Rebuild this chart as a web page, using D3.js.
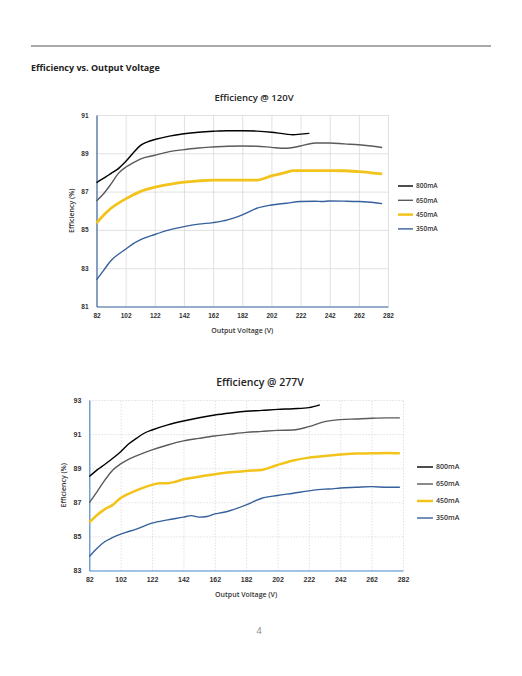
<!DOCTYPE html>
<html>
<head>
<meta charset="utf-8">
<script src="https://cdn.jsdelivr.net/npm/d3@7"></script>
<style>
  body { margin: 0; background: #fff; }
  svg { display: block; font-family: "Open Sans", sans-serif; }
</style>
</head>
<body>
<svg width="522" height="676"></svg>
<script>
// series labels and colours
var seriesNames = ["800mA", "650mA", "450mA", "350mA"];
var xTicks = [82, 102, 122, 142, 162, 182, 202, 222, 242, 262, 282];

// Efficiency @ 120V  (volts, %)
var v120_800 = [[82,87.47],[87,87.7],[92,87.95],[97,88.2],[102,88.57],[107,89.0],[112,89.4],[117,89.6],[122,89.72],[132,89.9],[142,90.02],[152,90.1],[162,90.15],[172,90.18],[182,90.18],[192,90.16],[202,90.1],[212,90.0],[217,89.97],[222,90.0],[228,90.04]];
var v120_650 = [[82,86.51],[87,86.9],[92,87.4],[97,87.95],[102,88.27],[107,88.5],[112,88.7],[122,88.9],[132,89.09],[142,89.19],[152,89.28],[162,89.33],[172,89.37],[182,89.38],[192,89.37],[202,89.31],[211,89.26],[222,89.38],[232,89.54],[242,89.54],[252,89.49],[262,89.45],[272,89.37],[278,89.3]];
var v120_450 = [[82,85.35],[87,85.78],[92,86.13],[102,86.62],[112,87.0],[122,87.23],[132,87.38],[142,87.49],[152,87.56],[162,87.6],[172,87.6],[182,87.6],[192,87.6],[202,87.82],[212,88.0],[217,88.1],[222,88.1],[232,88.1],[242,88.1],[252,88.09],[262,88.04],[272,87.97],[278,87.92]];
var v120_350 = [[82,82.39],[87,82.9],[92,83.4],[97,83.73],[102,83.99],[107,84.27],[112,84.48],[122,84.76],[132,85.0],[142,85.17],[152,85.3],[162,85.38],[172,85.52],[177,85.64],[182,85.78],[187,85.96],[192,86.13],[202,86.3],[212,86.39],[222,86.48],[232,86.5],[237,86.48],[242,86.51],[252,86.5],[262,86.48],[272,86.43],[278,86.37]];

// Efficiency @ 277V
var v277_800 = [[82,88.51],[87,88.9],[92,89.23],[97,89.58],[102,89.97],[107,90.42],[112,90.75],[117,91.05],[122,91.24],[132,91.54],[142,91.77],[152,91.96],[162,92.12],[172,92.24],[182,92.34],[192,92.39],[202,92.45],[212,92.49],[222,92.55],[229,92.71]];
var v277_650 = [[82,86.98],[87,87.63],[92,88.31],[97,88.9],[102,89.25],[107,89.52],[112,89.72],[122,90.07],[132,90.36],[142,90.6],[152,90.75],[162,90.89],[172,91.0],[182,91.1],[192,91.16],[202,91.22],[212,91.24],[222,91.44],[232,91.73],[242,91.85],[252,91.89],[262,91.93],[272,91.95],[280,91.95]];
var v277_450 = [[82,85.83],[87,86.26],[92,86.6],[97,86.85],[102,87.25],[107,87.5],[112,87.7],[122,88.02],[127,88.12],[132,88.12],[137,88.21],[142,88.35],[152,88.5],[162,88.64],[172,88.76],[182,88.84],[192,88.9],[202,89.19],[212,89.45],[222,89.62],[232,89.72],[242,89.8],[252,89.86],[262,89.87],[272,89.89],[280,89.87]];
var v277_350 = [[82,83.82],[87,84.31],[92,84.7],[97,84.94],[102,85.13],[112,85.43],[122,85.78],[132,85.97],[142,86.13],[147,86.22],[152,86.13],[157,86.17],[162,86.32],[167,86.4],[172,86.52],[182,86.85],[192,87.24],[202,87.4],[212,87.53],[222,87.67],[232,87.77],[237,87.79],[242,87.84],[252,87.88],[262,87.92],[272,87.88],[280,87.88]];

var colors = ["#000000", "#5a5a5a", "#f2c31b", "#36609c"];

var svg = d3.select("svg");

// page header
svg.append("line")
    .attr("x1", 31).attr("x2", 491).attr("y1", 46).attr("y2", 46)
    .style("stroke", "#555").style("stroke-width", 1);
svg.append("text")
    .attr("x", 31).attr("y", 71)
    .style("font-size", "9px").style("font-weight", "bold").style("fill", "#222")
    .text("Efficiency vs. Output Voltage");
svg.append("text")
    .attr("x", 259).attr("y", 634).attr("text-anchor", "middle")
    .style("font-size", "9px").style("fill", "#888")
    .text("4");

function drawChart(opt) {
  var x = d3.scaleLinear().domain([82, 282]).range([opt.left, opt.right]),
      y = d3.scaleLinear().domain(opt.yDomain).range([opt.bottom, opt.top]);

  var g = svg.append("g");

  // gridlines
  g.append("g")
      .attr("transform", "translate(0," + opt.bottom + ")")
      .call(d3.axisBottom(x).tickValues(xTicks).tickSize(-(opt.bottom - opt.top)).tickFormat(""))
      .call(function(s) { s.select(".domain").remove(); })
      .selectAll("line")
        .style("stroke", "#d9d9d9").style("stroke-width", 0.8)
        .style("stroke-dasharray", opt.dashed ? "1.5,1.5" : null);
  g.append("g")
      .attr("transform", "translate(" + opt.left + ",0)")
      .call(d3.axisLeft(y).tickValues(opt.yTicks).tickSize(-(opt.right - opt.left)).tickFormat(""))
      .call(function(s) { s.select(".domain").remove(); })
      .selectAll("line")
        .style("stroke", "#d9d9d9").style("stroke-width", 0.8)
        .style("stroke-dasharray", opt.dashed ? "1.5,1.5" : null);

  // axes
  var xa = g.append("g")
      .attr("transform", "translate(0," + opt.bottom + ")")
      .call(d3.axisBottom(x).tickValues(xTicks).tickSize(0).tickPadding(7));
  xa.select(".domain").style("stroke", opt.axisColor).style("stroke-width", 1.2);
  xa.selectAll("text").style("font-size", opt.tickSize).style("font-weight", "600").style("fill", "#333");

  var ya = g.append("g")
      .attr("transform", "translate(" + opt.left + ",0)")
      .call(d3.axisLeft(y).tickValues(opt.yTicks).tickSize(0).tickPadding(opt.yPad));
  ya.select(".domain").style("stroke", opt.axisColor).style("stroke-width", 1.2);
  ya.selectAll("text").style("font-size", opt.tickSize).style("font-weight", "600").style("fill", "#333");

  // titles
  g.append("text")
      .attr("x", opt.titleX).attr("y", opt.top - 14).attr("text-anchor", "middle")
      .style("font-size", opt.titleSize).style("font-weight", "600").style("fill", "#222")
      .text(opt.title);
  g.append("text")
      .attr("x", (opt.left + opt.right) / 2).attr("y", opt.bottom + 26).attr("text-anchor", "middle")
      .style("font-size", "7px").style("font-weight", "600").style("fill", "#333")
      .text("Output Voltage (V)");
  g.append("text")
      .attr("transform", "translate(" + opt.yLabelX + "," + ((opt.top + opt.bottom) / 2) + ") rotate(-90)")
      .attr("text-anchor", "middle")
      .style("font-size", "7px").style("font-weight", "600").style("fill", "#333")
      .text("Efficiency (%)");

  var line = d3.line()
      .x(function(d) { return x(d[0]); })
      .y(function(d) { return y(d[1]); })
      .curve(d3.curveMonotoneX);

  g.selectAll(".series")
    .data(opt.series)
    .enter().append("path")
      .attr("class", "series")
      .attr("d", line)
      .style("fill", "none")
      .style("stroke", function(d, i) { return colors[i]; })
      .style("stroke-width", function(d, i) { return i == 2 ? opt.goldWidth : 1.4; })
      .style("stroke-linejoin", "round");

  // legend
  var leg = g.selectAll(".legend")
    .data(seriesNames)
    .enter().append("g")
      .attr("class", "legend")
      .attr("transform", function(d, i) { return "translate(" + opt.legX + "," + (opt.legY + i * opt.legStep) + ")"; });
  leg.append("line")
      .attr("x1", 0).attr("x2", opt.legLen)
      .style("stroke", function(d, i) { return colors[i]; })
      .style("stroke-width", function(d, i) { return i == 2 ? 2.5 : 1.4; });
  leg.append("text")
      .attr("x", opt.legLen + 3).attr("dy", "0.35em")
      .style("font-size", opt.legFont).style("font-weight", "600").style("fill", "#333")
      .text(function(d) { return d; });
}

drawChart({
  left: 96.5, right: 388, top: 115, bottom: 306.5,
  yDomain: [81, 91], yTicks: [81, 83, 85, 87, 89, 91],
  series: [v120_800, v120_650, v120_450, v120_350],
  title: "Efficiency @ 120V", titleX: 254, titleSize: "9.5px",
  tickSize: "6.5px", yPad: 8, yLabelX: 74,
  axisColor: "#3d6aa3", dashed: false, goldWidth: 2.8,
  legX: 398, legY: 186, legStep: 14.3, legLen: 15, legFont: "6.5px"
});

drawChart({
  left: 89.3, right: 403, top: 400, bottom: 570.5,
  yDomain: [83, 93], yTicks: [83, 85, 87, 89, 91, 93],
  series: [v277_800, v277_650, v277_450, v277_350],
  title: "Efficiency @ 277V", titleX: 260, titleSize: "10.5px",
  tickSize: "7px", yPad: 8, yLabelX: 66,
  axisColor: "#4e8fd0", dashed: true, goldWidth: 2.5,
  legX: 417, legY: 467, legStep: 17, legLen: 16, legFont: "7px"
});
</script>
</body>
</html>
